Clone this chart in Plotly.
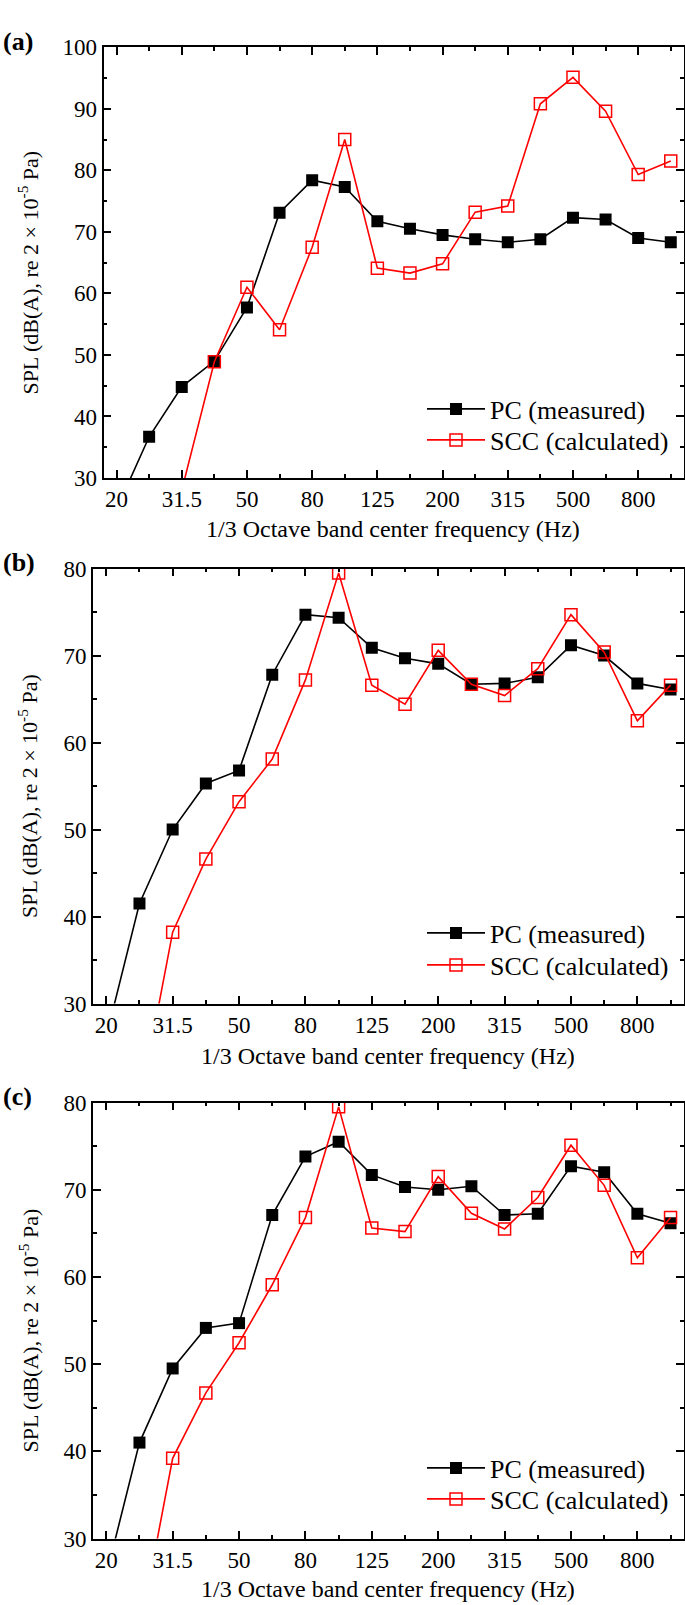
import plotly.graph_objects as go

W, H = 685, 1605

bands = ["20", "25", "31.5", "40", "50", "63", "80", "100", "125", "160",
         "200", "250", "315", "400", "500", "630", "800", "1000"]

pc_a = [24.9, 36.7, 44.8, 49.0, 57.7, 73.1, 78.4, 77.3, 71.7, 70.5,
        69.5, 68.8, 68.3, 68.8, 72.3, 72.0, 69.0, 68.3]
scc_a = [None, None, 28.0, 48.9, 61.0, 54.1, 67.5, 85.0, 64.1, 63.3,
         64.8, 73.2, 74.2, 90.8, 95.1, 89.6, 79.3, 81.5]

pc_b = [26.2, 41.5, 50.0, 55.3, 56.8, 67.8, 74.7, 74.35, 70.9, 69.7,
        69.05, 66.7, 66.8, 67.5, 71.2, 70.0, 66.8, 66.1]
scc_b = [None, 18.2, 38.2, 46.6, 53.2, 58.1, 67.2, 79.5, 66.6, 64.4,
         70.6, 66.7, 65.4, 68.5, 74.7, 70.4, 62.5, 66.6]

pc_c = [25.8, 41.0, 49.5, 54.15, 54.7, 67.1, 73.8, 75.5, 71.7, 70.3,
        70.0, 70.4, 67.1, 67.25, 72.7, 72.0, 67.25, 66.15]
scc_c = [None, 19.2, 39.2, 46.7, 52.45, 59.1, 66.8, 79.5, 65.6, 65.2,
         71.5, 67.3, 65.5, 69.1, 75.1, 70.5, 62.2, 66.8]

panel_labels = ["(a)", "(b)", "(c)"]
series_names = ["PC (measured)", "SCC (calculated)"]
x_title = "1/3 Octave band center frequency (Hz)"
y_title = "SPL (dB(A), re 2 × 10<sup>-5</sup> Pa)"

FONT = "Liberation Serif"
xidx = list(range(len(bands)))

panels = [
    dict(pc=pc_a, scc=scc_a, yr=[30, 100], top=47.2, bot=478.0, left=103.5,
         legrows=[409, 440], xt=528.5),
    dict(pc=pc_b, scc=scc_b, yr=[30, 80], top=568.6, bot=1003.5, left=93.0,
         legrows=[933, 965], xt=1056),
    dict(pc=pc_c, scc=scc_c, yr=[30, 80], top=1102.5, bot=1538.5, left=93.0,
         legrows=[1468, 1499], xt=1589),
]
RIGHT = 683.5

fig = go.Figure()

layout = dict(
    width=W, height=H,
    margin=dict(l=0, r=0, t=0, b=0),
    paper_bgcolor="white", plot_bgcolor="white",
    font=dict(family=FONT, size=23, color="black"),
    showlegend=True,
    annotations=[],
)

styles = [
    dict(line=dict(color="black", width=1.6),
         marker=dict(symbol="square", size=12, color="black")),
    dict(line=dict(color="#ff0000", width=1.6),
         marker=dict(symbol="square-open", size=12, color="#ff0000", line=dict(width=1.5))),
]

leg_count = 0
for i, p in enumerate(panels):
    n = "" if i == 0 else str(i + 1)
    xa = "x" + n
    ya = "y" + n
    for k, (vals, name) in enumerate(zip([p["pc"], p["scc"]], series_names)):
        leg_count += 1
        leg = "legend" if leg_count == 1 else "legend" + str(leg_count)
        fig.add_trace(go.Scatter(
            x=xidx, y=vals, mode="lines+markers", name=name,
            xaxis=xa, yaxis=ya, legend=leg, connectgaps=False, showlegend=True,
            **styles[k]
        ))
        layout[leg] = dict(
            x=422 / W, xanchor="left",
            y=1 - p["legrows"][k] / H, yanchor="middle",
            bgcolor="rgba(0,0,0,0)",
            font=dict(family=FONT, size=26, color="black"),
            itemwidth=58,
            visible=True,
        )

    axis_common = dict(
        showline=True, linecolor="black", linewidth=1.6, mirror="allticks",
        ticks="inside", ticklen=8, tickwidth=1.5, tickcolor="black",
        showgrid=False, zeroline=False, automargin=False,
        tickfont=dict(family=FONT, size=23, color="black"),
    )
    layout["xaxis" + n] = dict(
        axis_common,
        domain=[p["left"] / W, RIGHT / W],
        anchor=ya,
        range=[-0.4, 17.39],
        tickmode="array",
        tickvals=xidx[::2],
        ticktext=bands[::2],
        minor=dict(ticks="inside", ticklen=4, tickwidth=1.5, tickcolor="black",
                   tick0=0, dtick=1, showgrid=False),
    )
    layout["yaxis" + n] = dict(
        axis_common,
        domain=[1 - p["bot"] / H, 1 - p["top"] / H],
        anchor=xa,
        range=p["yr"],
        dtick=10,
        minor=dict(ticks="inside", ticklen=4, tickwidth=1.5, tickcolor="black",
                   dtick=5, showgrid=False),
    )
    # axis titles
    layout["annotations"].append(dict(
        text=x_title, xref="paper", yref="paper",
        x=(p["left"] + RIGHT) / 2 / W, y=1 - p["xt"] / H,
        xanchor="center", yanchor="middle", showarrow=False,
        font=dict(family=FONT, size=24, color="black"),
    ))
    layout["annotations"].append(dict(
        text=y_title, xref="paper", yref="paper",
        x=28 / W, y=1 - ((p["top"] + p["bot"]) / 2 + 10) / H,
        xanchor="center", yanchor="middle", textangle=-90, showarrow=False,
        font=dict(family=FONT, size=22, color="black"),
    ))
    layout["annotations"].append(dict(
        text="<b>" + panel_labels[i] + "</b>", xref="paper", yref="paper",
        x=1 / W, y=1 - (p["top"] - 6) / H, xanchor="left", yanchor="middle",
        showarrow=False, font=dict(family=FONT, size=26, color="black"),
    ))

fig.update_layout(**layout)
fig.write_html(
    "out.html",
    config={"displayModeBar": False},
    post_script="document.body.style.margin='0';document.body.style.overflow='hidden';",
)
